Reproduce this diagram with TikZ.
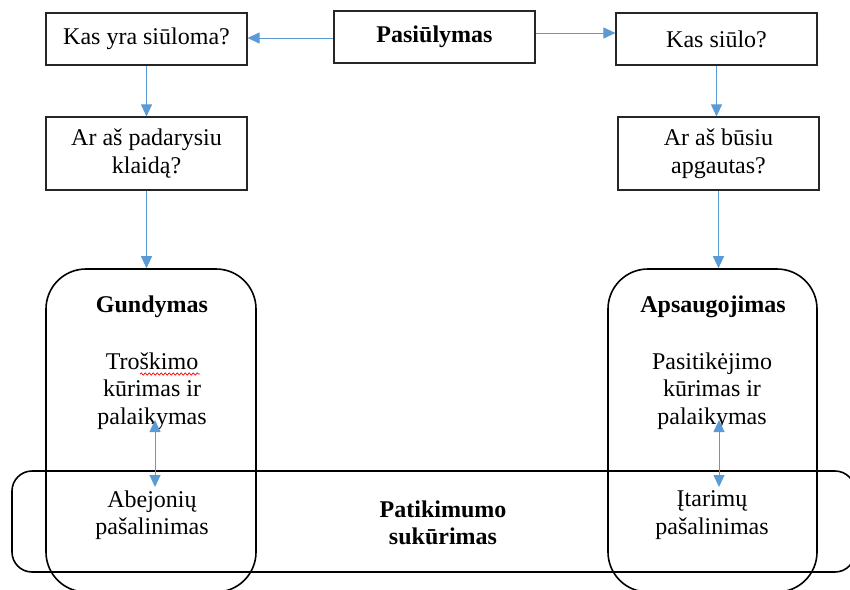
\documentclass[tikz,border=0pt]{standalone}
\usepackage{fontspec}
\setmainfont{Liberation Serif}
\usetikzlibrary{arrows.meta,decorations.pathmorphing}
\definecolor{arrowblue}{RGB}{91,155,213}
\begin{document}
\begin{tikzpicture}[x=1pt,y=-1pt,
  txt/.style={font=\fontsize{24}{27.5}\selectfont, align=center, inner sep=0pt},
  head/.style={txt, font=\fontsize{24}{27.5}\selectfont\bfseries},
  qbox/.style={draw=black!85, line width=1.1pt, minimum width=201pt, align=center,
    font=\fontsize{24}{27.5}\selectfont, inner sep=0pt},
  stage/.style={draw=black, line width=1.6pt, rounded corners=40pt, inner sep=0pt},
  band/.style={draw=black, line width=1.6pt, rounded corners=20pt, inner sep=0pt},
  tip/.style={Triangle[length=12pt,width=11pt]},
  link/.style={draw=arrowblue, line width=0.9pt, -{Triangle[length=12pt,width=11pt]}},
  dlink/.style={draw=arrowblue, line width=0.9pt,
    {Triangle[length=12pt,width=11pt]}-{Triangle[length=12pt,width=11pt]}}]
\useasboundingbox (0,0) rectangle (850,589);
\clip (0,0) rectangle (850,589);

% question boxes
\node[qbox, minimum height=52pt] (pas) at (434.5,37) {\bfseries Pasiūlymas};
\node[qbox, minimum height=52pt] (kasyra) at (146.5,39) {Kas yra siūloma?};
\node[qbox, minimum height=52pt] (kassiulo) at (716.5,39) {Kas siūlo?};
\node[qbox, minimum height=73pt] (klaida) at (146.5,153.5) {Ar aš padarysiu\\klaidą?};
\node[qbox, minimum height=73pt] (apgautas) at (718.5,153.5) {Ar aš būsiu\\apgautas?};

% stage frames
\node[stage, minimum width=210pt, minimum height=323pt] (gund) at (151,430.5) {};
\node[stage, minimum width=209pt, minimum height=323pt] (aps) at (712.5,430.5) {};
\node[band, minimum width=843pt, minimum height=101pt] (patikband) at (433.5,521.5) {};

% stage texts
\node[head] (gundt) at (152,307) {Gundymas};
\node[txt] (trosk) at (152,391) {Troškimo\\kūrimas ir\\palaikymas};
\node[txt] (abej) at (152,515) {Abejonių\\pašalinimas};
\node[head] (patik) at (443,523) {Patikimumo\\sukūrimas};
\node[head] (apst) at (713,307) {Apsaugojimas};
\node[txt] (pasit) at (712,391) {Pasitikėjimo\\kūrimas ir\\palaikymas};
\node[txt] (itar) at (712,515) {Įtarimų\\pašalinimas};

% spelling mark under the first word
\draw[red, line width=0.7pt, decorate, decoration={snake, amplitude=1.1pt, segment length=4pt}]
  (140,374) -- (200,374);

% connectors
\draw[link] ([yshift=-1pt]pas.west) -- ([yshift=-1pt]pas.west -| kasyra.east);
\draw[link] ([yshift=4pt]pas.east) -- ([yshift=4pt]pas.east -| kassiulo.west);
\draw[link] (kasyra.south) -- (klaida.north);
\draw[link] (kassiulo.south) -- (kassiulo.south |- apgautas.north);
\draw[link] (klaida.south) -- (klaida.south |- gund.north);
\draw[link] (apgautas.south) -- (apgautas.south |- aps.north);

\coordinate (g1) at (155,420);
\coordinate (g2) at (155,487);
\coordinate (a1) at (719,420);
\coordinate (a2) at (719,487);
\draw[dlink] (g1) -- (g2);
\draw[dlink] (a1) -- (a2);
\end{tikzpicture}
\end{document}
